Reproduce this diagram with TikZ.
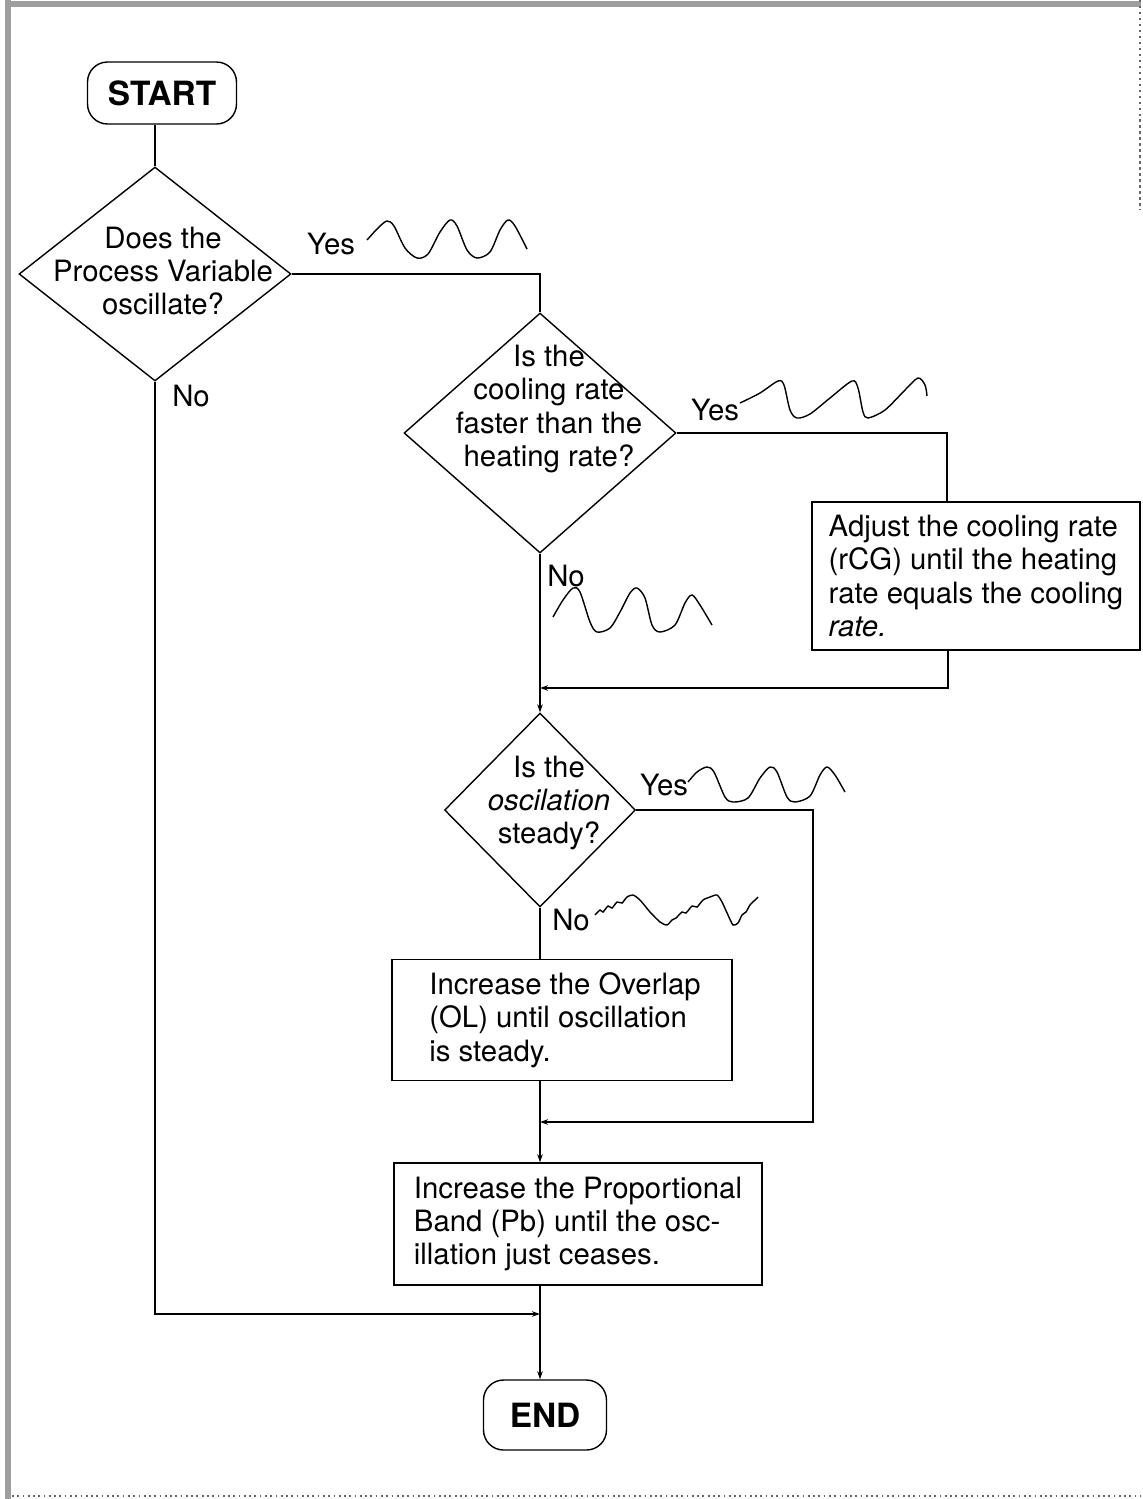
\documentclass[tikz,border=0pt]{standalone}
\usepackage{fontspec}
\setmainfont{TeX Gyre Heros}
\usetikzlibrary{shapes.geometric,arrows.meta}
\begin{document}
\begin{tikzpicture}[x=0.02cm,y=-0.02cm,
  line width=0.8pt,
  txt/.style={font=\fontsize{16.7}{19}\selectfont, inner sep=0pt, align=center},
  term/.style={draw, rounded corners=0.4cm, font=\fontsize{19}{22}\selectfont\bfseries, inner sep=0pt},
  dia/.style={draw, diamond, inner sep=0pt},
  procbox/.style={draw, rectangle, align=left, inner sep=0pt, font=\fontsize{16.7}{19}\selectfont},
  wave/.style={line width=0.8pt},
  tip/.style={-{Stealth[length=0.16cm,width=0.11cm]}},
  frameband/.style={fill=black!38}
]
\useasboundingbox (0,0) rectangle (1143,1499);
% frame
\fill[frameband] (5,0) rectangle (11,1499);
\fill[frameband] (5,1) rectangle (1141,7);
\draw[black!60, line width=1.4pt, dotted] (1140,0) -- (1140,210);
\draw[black!60, line width=1pt, dotted] (12,1496) -- (1141,1496);

% nodes
\node[term, minimum width=2.98cm, minimum height=1.24cm] (start) at (162,93) {START};
\node[dia, minimum width=5.44cm, minimum height=4.28cm] (d1) at (155,274) {};
\node[txt] (t1) at (163,271) {Does the\\Process Variable\\oscillate?};
\node[dia, minimum width=5.44cm, minimum height=4.8cm] (d2) at (540,433) {};
\node[txt] (t2) at (549,409) {Is the\\cooling rate\\faster than the\\heating rate?};
\node[procbox, minimum width=6.56cm, minimum height=2.96cm] (b2) at (976,576)
  {Adjust the cooling rate\\(rCG) until the heating\\rate equals the cooling\\{\itshape rate.}};
\node[dia, minimum width=3.82cm, minimum height=3.88cm] (d3) at (540,810) {};
\node[txt] (t3) at (549,803) {Is the\\{\itshape oscilation}\\steady?};
\node[procbox, minimum width=6.8cm, minimum height=2.42cm] (b4) at (562,1020)
  {\hspace*{0.12cm}Increase the Overlap\\\hspace*{0.12cm}(OL) until oscillation\\\hspace*{0.12cm}is steady.};
\node[procbox, minimum width=7.36cm, minimum height=2.44cm] (b5) at (578,1224)
  {Increase the Proportional\\Band (Pb) until the osc-\\illation just ceases.};
\node[term, minimum width=2.46cm, minimum height=1.4cm] (endn) at (545,1415) {END};

% labels
\node[txt] (yes1) at (331,244) {Yes};
\node[txt] (yes2) at (715,410) {Yes};
\node[txt] (yes3) at (664,785) {Yes};
\node[txt] (no1) at (191,396) {No};
\node[txt] (no2) at (566,576) {No};
\node[txt] (no3) at (571,920) {No};

% coordinates
\coordinate (b2in) at ([xshift=-0.58cm]b2.north);
\coordinate (b2out) at ([xshift=-0.56cm]b2.south);
\coordinate (m1) at (540,688);
\coordinate (r3) at (813,1122);
\coordinate (m2) at (540,1122);
\coordinate (m3) at (540,1314);

% connectors
\draw (d1.north |- start.south) -- (d1.north);
\draw (d1.east) -| (d2.north);
\draw (d2.east) -| (b2in);
\draw[tip] (b2out) |- (m1);
\draw[tip] (d2.south) -- (d3.north);
\draw[tip] (d3.east) -| (r3) -- (m2);
\draw (d3.south) -- (d3.south |- b4.north);
\draw[tip] (d3.south |- b4.south) -- (d3.south |- b5.north);
\draw[tip] (d3.south |- b5.south) -- (d3.south |- endn.north);
\draw[tip] (d1.south) |- (m3);

% waves
\draw[wave] plot[smooth] coordinates {(367,240) (378,228) (387,221) (394,226) (405,248) (417,258) (428,254) (440,232) (450,220) (457,226) (467,250) (477,258) (490,252) (500,230) (508,220) (515,226) (527,249)};
\draw[wave] plot[smooth] coordinates {(740,403) (760,393) (778,381) (784,385) (790,410) (797,418) (810,414) (830,398) (852,381) (858,388) (863,412) (868,418) (885,410) (905,390) (918,378) (925,385) (927,396)};
\draw[wave] plot[smooth] coordinates {(553,617) (563,600) (573,588) (580,592) (590,622) (597,632) (610,628) (620,612) (630,593) (637,588) (645,598) (652,625) (660,632) (675,625) (685,603) (692,595) (700,605) (712,625)};
\draw[wave] plot[smooth] coordinates {(688,782) (697,772) (707,767) (714,772) (725,797) (733,802) (748,798) (760,778) (770,767) (777,772) (787,797) (795,802) (810,796) (820,775) (827,767) (835,775) (845,792)};
\draw[wave] plot[smooth, tension=0.4] coordinates {(595,915) (600,910) (603,912) (608,906) (612,908) (617,902) (622,903) (627,897) (633,895) (640,900) (650,912) (660,922) (667,925) (672,920) (676,918) (682,912) (686,913) (692,906) (697,907) (703,900) (710,897) (717,895) (722,902) (728,915) (733,925) (738,923) (742,915) (746,912) (750,905) (755,900) (758,897)};
\end{tikzpicture}
\end{document}
